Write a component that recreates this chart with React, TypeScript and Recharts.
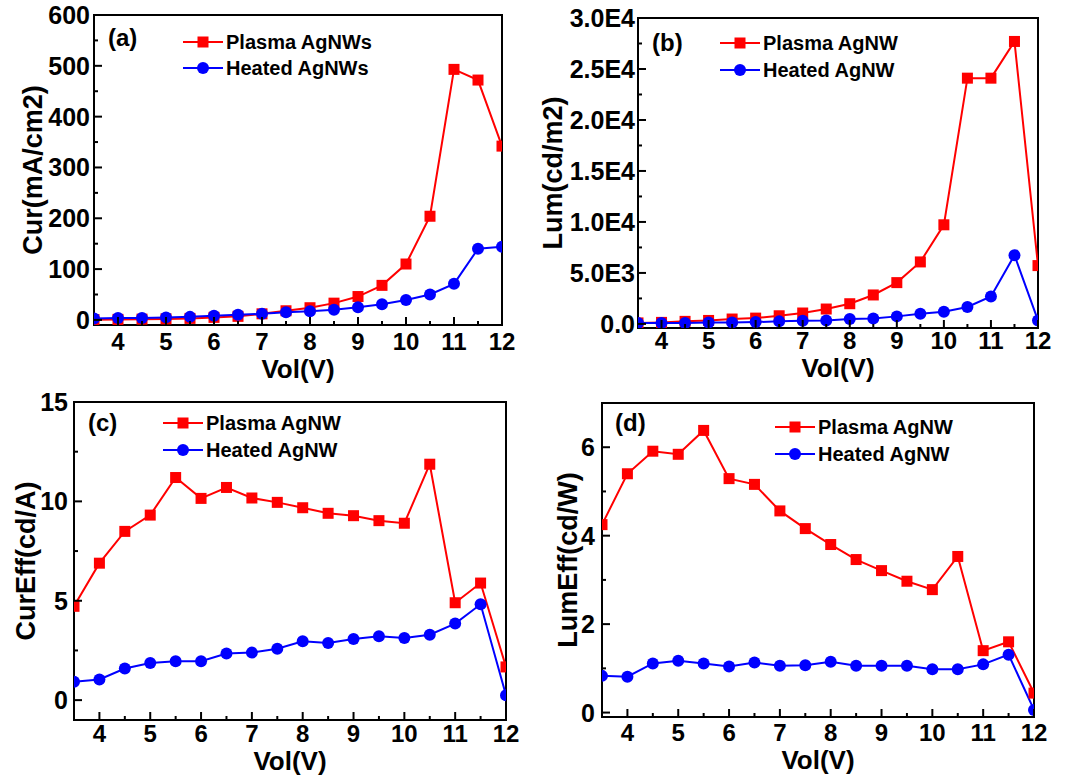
import React from 'react';
import { LineChart, Line, XAxis, YAxis, ReferenceArea, Legend } from 'recharts';

const FONT = '"Liberation Sans", Arial, Helvetica, sans-serif';
const RED = '#ff0000';
const BLUE = '#0000ff';

const volts = [3.5, 4, 4.5, 5, 5.5, 6, 6.5, 7, 7.5, 8, 8.5, 9, 9.5, 10, 10.5, 11, 11.5, 12];
const xMajorTicks = [4, 5, 6, 7, 8, 9, 10, 11, 12];
const xMinorTicks = [4.5, 5.5, 6.5, 7.5, 8.5, 9.5, 10.5, 11.5];
const xTickLabels = ['4', '5', '6', '7', '8', '9', '10', '11', '12'];

// (a) current density
const curPlasma = [0.5, 1, 1.5, 2, 3, 5, 7, 12, 18, 24, 33, 46, 68, 110, 204, 493, 472, 342];
const curHeated = [3, 4, 4, 5, 6, 8, 10, 12, 15, 17, 20, 25, 31, 39, 50, 71, 140, 144];
const curMajor = [0, 100, 200, 300, 400, 500, 600];
const curMinor = [50, 150, 250, 350, 450, 550];
const curLabels = ['0', '100', '200', '300', '400', '500', '600'];

// (b) luminance
const lumPlasma = [100, 150, 250, 340, 480, 570, 800, 1070, 1460, 1980, 2840, 4050, 6080, 9720, 24100, 24100, 27700, 5720];
const lumHeated = [100, 100, 100, 150, 150, 180, 250, 310, 340, 480, 540, 740, 1000, 1200, 1660, 2700, 6740, 340];
const lumMajor = [0, 5000, 10000, 15000, 20000, 25000, 30000];
const lumMinor = [2500, 7500, 12500, 17500, 22500, 27500];
const lumLabels = ['0.0', '5.0E3', '1.0E4', '1.5E4', '2.0E4', '2.5E4', '3.0E4'];

// (c) current efficiency
const ceffPlasma = [4.72, 6.89, 8.49, 9.31, 11.2, 10.15, 10.7, 10.17, 9.95, 9.68, 9.4, 9.28, 9.03, 8.9, 11.87, 4.9, 5.89, 1.67];
const ceffHeated = [0.92, 1.04, 1.59, 1.87, 1.96, 1.96, 2.34, 2.39, 2.59, 2.96, 2.88, 3.08, 3.21, 3.13, 3.29, 3.85, 4.82, 0.25];
const ceffMajor = [0, 5, 10, 15];
const ceffMinor = [2.5, 7.5, 12.5];
const ceffLabels = ['0', '5', '10', '15'];

// (d) luminous efficiency
const leffPlasma = [4.25, 5.4, 5.91, 5.84, 6.38, 5.29, 5.16, 4.56, 4.16, 3.8, 3.46, 3.21, 2.97, 2.78, 3.53, 1.4, 1.6, 0.44];
const leffHeated = [0.83, 0.81, 1.11, 1.17, 1.11, 1.04, 1.13, 1.06, 1.07, 1.15, 1.06, 1.06, 1.06, 0.98, 0.98, 1.09, 1.31, 0.06];
const leffMajor = [0, 2, 4, 6];
const leffMinor = [1, 3, 5];
const leffLabels = ['0', '2', '4', '6'];

const buildRows = (p: number[], h: number[]) =>
  volts.map((v, i) => ({ v, plasma: p[i], heated: h[i] }));

const SquareDot = (props: any) => {
  const { cx, cy, index } = props;
  if (cx == null || cy == null) return <g key={`s${index}`} />;
  return <rect key={`s${index}`} x={cx - 5.5} y={cy - 5.5} width={11} height={11} fill={RED} />;
};
const CircleDot = (props: any) => {
  const { cx, cy, index } = props;
  if (cx == null || cy == null) return <g key={`c${index}`} />;
  return <circle key={`c${index}`} cx={cx} cy={cy} r={6} fill={BLUE} />;
};

const makeXTick = (gap: number) => (props: any) => {
  const { x, y, payload } = props;
  const v = payload.value;
  const mi = xMajorTicks.indexOf(v);
  const major = mi >= 0;
  return (
    <g>
      <line x1={x} x2={x} y1={y} y2={y - (major ? 8 : 4)} stroke="#000" strokeWidth={2} />
      {major ? (
        <text x={x} y={y + gap + 17} textAnchor="middle" fontSize={24} fontWeight="bold" fill="#000" fontFamily={FONT}>
          {xTickLabels[mi]}
        </text>
      ) : null}
    </g>
  );
};

const makeYTick = (gap: number, majors: number[], labels: string[]) => (props: any) => {
  const { x, y, payload } = props;
  const mi = majors.indexOf(payload.value);
  const major = mi >= 0;
  return (
    <g>
      <line x1={x} x2={x + (major ? 8 : 4)} y1={y} y2={y} stroke="#000" strokeWidth={2} />
      {major ? (
        <text x={x - gap} y={y + 9} textAnchor="end" fontSize={25} fontWeight="bold" fill="#000" fontFamily={FONT}>
          {labels[mi]}
        </text>
      ) : null}
    </g>
  );
};

type PanelSpec = {
  left: number; top: number; width: number; height: number;
  margin: { top: number; right: number; left: number; bottom: number };
  yWidth: number; xHeight: number;
  yDomain: [number, number];
  yMajor: number[]; yMinor: number[]; yLabels: string[];
  xGap: number; yGap: number;
  yTitle: string; yTitleOffset: number; xTitleOffset: number;
  tag: string; tagX: number; tagY: number;
  legX: number; legY1: number; legY2: number;
  names: [string, string];
  plasma: number[]; heated: number[];
};

const PanelLegend = ({ s }: { s: PanelSpec }) => {
  const rows = [
    { name: s.names[0], color: RED, y: s.legY1, square: true },
    { name: s.names[1], color: BLUE, y: s.legY2, square: false },
  ];
  return (
    <div style={{ position: 'relative', width: s.width, height: s.height, fontFamily: FONT, fontWeight: 'bold', color: '#000' }}>
      <div style={{ position: 'absolute', left: s.tagX, top: s.tagY - 14, fontSize: 24, lineHeight: '28px' }}>{s.tag}</div>
      {rows.map((r) => (
        <div key={r.name} style={{ position: 'absolute', left: s.legX, top: r.y - 12, height: 24, display: 'flex', alignItems: 'center' }}>
          <svg width={40} height={14} style={{ display: 'block' }}>
            <line x1={0} x2={40} y1={7} y2={7} stroke={r.color} strokeWidth={2} />
            {r.square ? <rect x={14.5} y={1.5} width={11} height={11} fill={r.color} /> : <circle cx={20} cy={7} r={6} fill={r.color} />}
          </svg>
          <span style={{ fontSize: 20, lineHeight: '24px', marginLeft: 3, whiteSpace: 'nowrap' }}>{r.name}</span>
        </div>
      ))}
    </div>
  );
};

const Panel = ({ s }: { s: PanelSpec }) => {
  const data = buildRows(s.plasma, s.heated);
  const yTicks = [...s.yMajor, ...s.yMinor].sort((a, b) => a - b);
  const xTicks = [...xMajorTicks, ...xMinorTicks].sort((a, b) => a - b);
  return (
    <div style={{ position: 'absolute', left: s.left, top: s.top, width: s.width, height: s.height }}>
      <LineChart width={s.width} height={s.height} data={data} margin={s.margin} style={{ fontFamily: FONT }}>
        <ReferenceArea x1={3.5} x2={12} y1={s.yDomain[0]} y2={s.yDomain[1]} fill="none" stroke="#000" strokeWidth={2} ifOverflow="visible" />
        <XAxis
          dataKey="v" type="number" domain={[3.5, 12]} allowDataOverflow ticks={xTicks} interval={0}
          height={s.xHeight} tickSize={0} tickMargin={0} axisLine={false} tickLine={false}
          tick={makeXTick(s.xGap)}
          label={{ value: 'Vol(V)', position: 'bottom', offset: s.xTitleOffset, style: { fontSize: 26, fontWeight: 'bold', fill: '#000', fontFamily: FONT } }}
        />
        <YAxis
          type="number" domain={s.yDomain} allowDataOverflow ticks={yTicks} interval={0}
          width={s.yWidth} tickSize={0} tickMargin={0} axisLine={false} tickLine={false}
          tick={makeYTick(s.yGap, s.yMajor, s.yLabels)}
          label={{ value: s.yTitle, angle: -90, position: 'insideLeft', offset: s.yTitleOffset, style: { textAnchor: 'middle', fontSize: 27, fontWeight: 'bold', fill: '#000', fontFamily: FONT } }}
        />
        <Legend
          layout="horizontal" verticalAlign="middle" align="center"
          wrapperStyle={{ left: 0, top: 0, width: s.width, height: s.height, pointerEvents: 'none' }}
          content={() => <PanelLegend s={s} />}
        />
        <Line dataKey="plasma" name={s.names[0]} stroke={RED} strokeWidth={2} type="linear" dot={(p: any) => <SquareDot {...p} key={`s${p.index}`} />} activeDot={false} isAnimationActive={false} />
        <Line dataKey="heated" name={s.names[1]} stroke={BLUE} strokeWidth={2} type="linear" dot={(p: any) => <CircleDot {...p} key={`c${p.index}`} />} activeDot={false} isAnimationActive={false} />
      </LineChart>
    </div>
  );
};

const panels: PanelSpec[] = [
  {
    left: 0, top: 0, width: 530, height: 385,
    margin: { top: 15, right: 28, left: 34, bottom: 30 }, yWidth: 60, xHeight: 30,
    yDomain: [-10, 600], yMajor: curMajor, yMinor: curMinor, yLabels: curLabels,
    xGap: 8, yGap: 4, yTitle: 'Cur(mA/cm2)', yTitleOffset: -2, xTitleOffset: 5,
    tag: '(a)', tagX: 108, tagY: 38, legX: 183, legY1: 42, legY2: 68,
    names: ['Plasma AgNWs', 'Heated AgNWs'], plasma: curPlasma, heated: curHeated,
  },
  {
    left: 530, top: 0, width: 537, height: 385,
    margin: { top: 18, right: 29, left: 38, bottom: 27 }, yWidth: 70, xHeight: 30,
    yDomain: [-400, 30000], yMajor: lumMajor, yMinor: lumMinor, yLabels: lumLabels,
    xGap: 4, yGap: 3, yTitle: 'Lum(cd/m2)', yTitleOffset: -16, xTitleOffset: 1,
    tag: '(b)', tagX: 122, tagY: 43, legX: 190, legY1: 43, legY2: 70,
    names: ['Plasma AgNW', 'Heated AgNW'], plasma: lumPlasma, heated: lumHeated,
  },
  {
    left: 0, top: 385, width: 530, height: 390,
    margin: { top: 17, right: 24, left: 24, bottom: 30 }, yWidth: 50, xHeight: 25,
    yDomain: [-1, 15], yMajor: ceffMajor, yMinor: ceffMinor, yLabels: ceffLabels,
    xGap: 5, yGap: 6, yTitle: 'CurEff(cd/A)', yTitleOffset: 1, xTitleOffset: 7,
    tag: '(c)', tagX: 88, tagY: 38, legX: 163, legY1: 38, legY2: 65,
    names: ['Plasma AgNW', 'Heated AgNW'], plasma: ceffPlasma, heated: ceffHeated,
  },
  {
    left: 530, top: 385, width: 537, height: 390,
    margin: { top: 18, right: 33, left: 22, bottom: 33 }, yWidth: 50, xHeight: 25,
    yDomain: [-0.1, 7], yMajor: leffMajor, yMinor: leffMinor, yLabels: leffLabels,
    xGap: 7, yGap: 7, yTitle: 'LumEff(cd/W)', yTitleOffset: 15, xTitleOffset: 9,
    tag: '(d)', tagX: 85, tagY: 38, legX: 245, legY1: 42, legY2: 69,
    names: ['Plasma AgNW', 'Heated AgNW'], plasma: leffPlasma, heated: leffHeated,
  },
];

export default function App() {
  return (
    <div style={{ position: 'absolute', left: 0, top: 0, width: 1067, height: 775, background: '#fff', overflow: 'hidden' }}>
      {panels.map((s) => (
        <Panel key={s.tag} s={s} />
      ))}
    </div>
  );
}
